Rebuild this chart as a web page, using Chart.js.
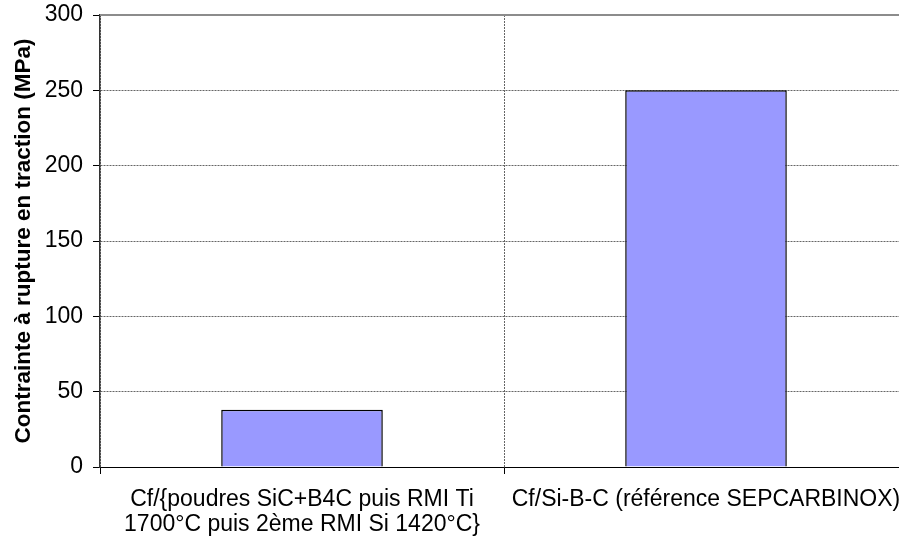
<!DOCTYPE html>
<html>
<head>
<meta charset="utf-8">
<script src="https://cdn.jsdelivr.net/npm/chart.js@4"></script>
<style>
html,body{margin:0;padding:0;overflow:hidden;background:#fff;}
#wrap{width:899px;height:543px;overflow:hidden;}
canvas{display:block;}
</style>
</head>
<body>
<div id="wrap"><canvas id="c" width="910" height="543"></canvas></div>
<script>
const categories = [
  ["Cf/{poudres SiC+B4C puis RMI Ti", "1700°C puis 2ème RMI Si 1420°C}"],
  "Cf/Si-B-C (référence SEPCARBINOX)"
];
const values = [38, 250];
const yMin = 0, yMax = 300, yStep = 50;
const yTitle = "Contrainte à rupture en traction (MPa)";

const topBorder = {
  id: 'topBorder',
  afterDraw(chart) {
    const {ctx, chartArea} = chart;
    ctx.save();
    ctx.strokeStyle = '#8c8c8c';
    ctx.lineWidth = 2;
    ctx.beginPath();
    ctx.moveTo(chartArea.left, chartArea.top);
    ctx.lineTo(chartArea.right, chartArea.top);
    ctx.stroke();
    ctx.restore();
  }
};

new Chart(document.getElementById('c'), {
  type: 'bar',
  data: {
    labels: categories,
    datasets: [{
      data: values,
      backgroundColor: '#9999FF',
      borderColor: '#000000',
      borderWidth: 1.5,
      barPercentage: 0.4,
      categoryPercentage: 1.0
    }]
  },
  options: {
    responsive: false,
    animation: false,
    devicePixelRatio: 1,
    layout: { padding: { top: 15, right: 2, left: 0, bottom: 0 } },
    plugins: { legend: { display: false }, tooltip: { enabled: false } },
    scales: {
      x: {
        offset: true,
        grid: {
          offset: true,
          color: '#666666',
          lineWidth: 1,
          drawTicks: true,
          tickLength: 7,
          tickColor: '#000000',
          tickWidth: 1
        },
        border: { display: true, color: '#000000', width: 1, dash: [2, 1] },
        ticks: {
          color: '#000000',
          font: { family: 'Liberation Sans, Arial, sans-serif', size: 23, lineHeight: 1.05 },
          padding: 14,
          maxRotation: 0,
          minRotation: 0,
          autoSkip: false
        },
        afterFit(scale) {
          scale.height = 76;
          scale.paddingLeft = 0; scale.paddingRight = 0;
        }
      },
      y: {
        min: yMin,
        max: yMax,
        grid: {
          color: (ctx) => (ctx.tick && ctx.tick.value === yMax) ? 'rgba(0,0,0,0)' : '#666666',
          lineWidth: 1,
          drawTicks: true,
          tickLength: 7,
          tickColor: '#000000',
          tickWidth: 1
        },
        border: { display: true, color: '#333333', width: 1.5, dash: [2, 1] },
        ticks: {
          stepSize: yStep,
          color: '#000000',
          font: { family: 'Liberation Sans, Arial, sans-serif', size: 23 },
          padding: 10
        },
        title: {
          display: true,
          text: yTitle,
          color: '#000000',
          font: { family: 'Liberation Sans, Arial, sans-serif', size: 22.5, weight: 'bold' },
          padding: { top: 10.5, bottom: 0 }
        },
        afterFit(scale) {
          scale.width = 100;
          scale.paddingTop = 0; scale.paddingBottom = 0;
        }
      }
    }
  },
  plugins: [topBorder]
});
</script>
</body>
</html>
